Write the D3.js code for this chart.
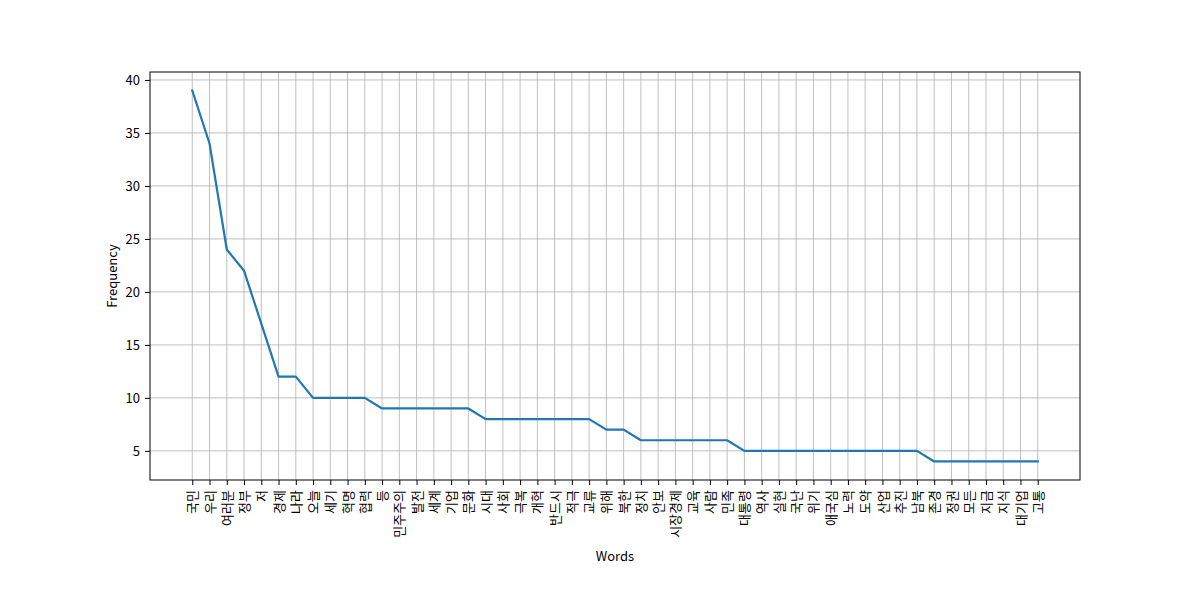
<!DOCTYPE html>
<html>
<head>
<meta charset="utf-8">
<script src="https://cdn.jsdelivr.net/npm/d3@7"></script>
<style>
  body { margin: 0; background: #fff; }
  svg text { font-family: "Noto Sans CJK KR", "Open Sans", sans-serif; fill: #000; }
</style>
</head>
<body>
<div id="chart"></div>
<script>
// word frequencies
var words = ["국민", "우리", "여러분", "정부", "저", "경제", "나라", "오늘", "세기", "혁명",
  "협력", "등", "민주주의", "발전", "세계", "기업", "문화", "시대", "사회", "극복",
  "개혁", "반드시", "적극", "교류", "위해", "북한", "정치", "안보", "시장경제", "교육",
  "사람", "민족", "대통령", "역사", "실현", "국난", "위기", "애국심", "노력", "도약",
  "산업", "추진", "남북", "존경", "정권", "모든", "지금", "지식", "대기업", "고통"];
var counts = [39, 34, 24, 22, 17, 12, 12, 10, 10, 10,
  10, 9, 9, 9, 9, 9, 9, 8, 8, 8,
  8, 8, 8, 8, 7, 7, 6, 6, 6, 6,
  6, 6, 5, 5, 5, 5, 5, 5, 5, 5,
  5, 5, 5, 4, 4, 4, 4, 4, 4, 4];
var yTicks = [5, 10, 15, 20, 25, 30, 35, 40];

var W = 1200, H = 600;
var margin = {top: 72, right: 120, bottom: 120, left: 150};
var width = W - margin.left - margin.right,
    height = H - margin.top - margin.bottom;

var svg = d3.select("#chart").append("svg")
  .attr("width", W)
  .attr("height", H);

var g = svg.append("g")
  .attr("transform", "translate(" + margin.left + "," + margin.top + ")");

// matplotlib style 5% padding on both axes
var n = words.length;
var padX = (n - 1) * 0.05;
var x = d3.scaleLinear().domain([-padX, n - 1 + padX]).range([0, width]);
var yMin = d3.min(counts), yMax = d3.max(counts);
var padY = (yMax - yMin) * 0.05;
var y = d3.scaleLinear().domain([yMin - padY, yMax + padY]).range([height, 0]);

// grid
g.append("g").selectAll("line").data(d3.range(n)).enter().append("line")
  .attr("x1", d => x(d)).attr("x2", d => x(d))
  .attr("y1", 0).attr("y2", height)
  .attr("stroke", "#b0b0b0").attr("stroke-width", 0.8);
g.append("g").selectAll("line").data(yTicks).enter().append("line")
  .attr("x1", 0).attr("x2", width)
  .attr("y1", d => y(d)).attr("y2", d => y(d))
  .attr("stroke", "#b0b0b0").attr("stroke-width", 0.8);

// line
var line = d3.line()
  .x((d, i) => x(i))
  .y(d => y(d));
g.append("path")
  .datum(counts)
  .attr("d", line)
  .attr("fill", "none")
  .attr("stroke", "#1f77b4")
  .attr("stroke-width", 2.2)
  .attr("stroke-linejoin", "round")
  .attr("stroke-linecap", "square");

// axes
var xAxis = d3.axisBottom(x)
  .tickValues(d3.range(n))
  .tickFormat(i => words[i])
  .tickSize(5).tickSizeOuter(0).tickPadding(5);
var xg = g.append("g")
  .attr("transform", "translate(0," + height + ")")
  .call(xAxis);
xg.select(".domain").remove();
xg.selectAll("text")
  .attr("font-size", 13)
  .attr("transform", "rotate(-90)")
  .attr("x", -10)
  .attr("y", 0)
  .attr("dy", "0.35em")
  .style("text-anchor", "end");

var yAxis = d3.axisLeft(y)
  .tickValues(yTicks)
  .tickSize(5).tickSizeOuter(0).tickPadding(5);
var yg = g.append("g").call(yAxis);
yg.select(".domain").remove();
yg.selectAll("text").attr("font-size", 13);
g.selectAll(".tick line").attr("stroke", "#000").attr("stroke-width", 1);

// frame
g.append("rect")
  .attr("width", width).attr("height", height)
  .attr("fill", "none").attr("stroke", "#000").attr("stroke-width", 1);

// axis titles
svg.append("text")
  .attr("x", margin.left + width / 2)
  .attr("y", 561)
  .attr("text-anchor", "middle")
  .attr("font-size", 13)
  .text("Words");
svg.append("text")
  .attr("transform", "translate(117," + (margin.top + height / 2) + ") rotate(-90)")
  .attr("text-anchor", "middle")
  .attr("font-size", 13)
  .text("Frequency");
</script>
</body>
</html>
